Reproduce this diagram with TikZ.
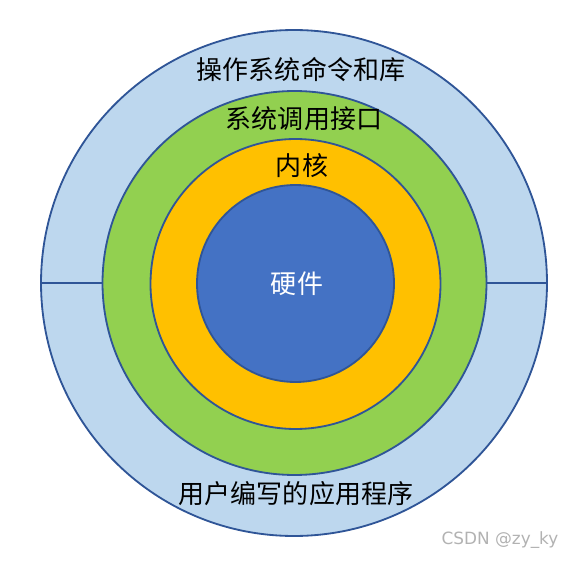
\documentclass[tikz,border=0pt]{standalone}
\usepackage{fontspec}
\setmainfont{Noto Sans CJK SC}
\newfontfamily\markfont{DejaVu Sans}
\usetikzlibrary{positioning}
\definecolor{ringline}{RGB}{47,85,151}
\definecolor{shellblue}{RGB}{189,215,238}
\definecolor{callgreen}{RGB}{146,208,80}
\definecolor{kernelorange}{RGB}{255,192,0}
\definecolor{hwblue}{RGB}{68,114,196}
\begin{document}
\begin{tikzpicture}[x=0.05cm, y=-0.05cm, ring/.style={draw=ringline, line width=2.6pt, circle, inner sep=0pt}, lbl/.style={font=\fontsize{37}{40}\selectfont, inner sep=0pt}]
    \useasboundingbox (0,0) rectangle (574,561);
    \node[ring, fill=shellblue, minimum size=25.3cm] (shell) at (294,283) {};
    \node[ring, fill=callgreen, minimum size=19.2cm] (syscall) at (294.5,283) {};
    \node[ring, fill=kernelorange, minimum size=14.5cm] (kernel) at (295.5,284) {};
    \node[ring, fill=hwblue, minimum size=9.85cm] (hw) at (295.5,283.5) {};
    \draw[draw=ringline, line width=2.6pt] (shell.west) -- (syscall.west);
    \draw[draw=ringline, line width=2.6pt] (syscall.east) -- (shell.east);
    \node[lbl] (cmds) at (301,70) {操作系统命令和库};
    \node[lbl] (api) at (304,119) {系统调用接口};
    \node[lbl] (core) at (302,166) {内核};
    \node[lbl, text=white] (hwtext) at (297,284) {硬件};
    \node[lbl] (apps) at (296,494) {用户编写的应用程序};
    \node[font=\markfont\fontsize{24}{26}\selectfont, text=black!30, inner sep=0pt] (mark) at (500,540) {CSDN @zy\_ky};
\end{tikzpicture}
\end{document}
